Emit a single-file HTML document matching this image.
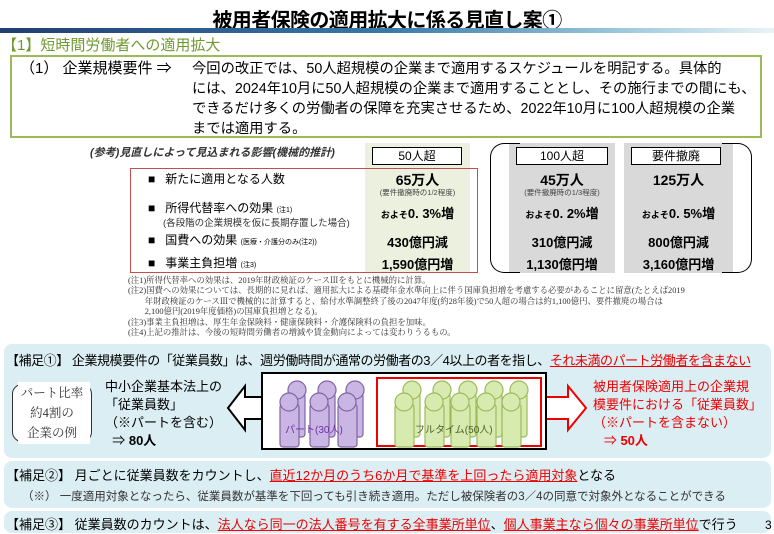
<!DOCTYPE html>
<html><head><meta charset="utf-8">
<style>
*{margin:0;padding:0;box-sizing:border-box}
body{width:774px;height:534px;background:#fff;position:relative;overflow:hidden;font-family:"Liberation Sans","Noto Sans CJK JP",sans-serif;color:#000}
.a{position:absolute;white-space:nowrap}
.red{color:#e00}
.u{text-decoration:underline}
</style></head><body>
<div class="a" style="left:0;width:774px;top:4px;text-align:center;font-size:20px;font-weight:bold;letter-spacing:-0.6px">被用者保険の適用拡大に係る見直し案①</div>
<div class="a" style="left:0;top:28px;width:774px;height:5px;background:linear-gradient(90deg,#1f3f6f,#3a79a8 50%,#9cc8dc 80%,#e8f3f7)"></div>
<div class="a" style="left:2px;top:34px;font-size:15px;color:#6f9a2e">【1】短時間労働者への適用拡大</div>
<div class="a" style="left:10px;top:55px;width:752px;height:83px;border:2px solid #9bbb59"></div>
<div class="a" style="left:20px;top:59px;font-size:15px;line-height:20px">（1） 企業規模要件 ⇒</div>
<div class="a" style="left:192px;top:59px;font-size:14.3px;line-height:20px">今回の改正では、50人超規模の企業まで適用するスケジュールを明記する。具体的<br>には、2024年10月に50人超規模の企業まで適用することとし、その施行までの間にも、<br>できるだけ多くの労働者の保障を充実させるため、2022年10月に100人超規模の企業<br>までは適用する。</div>

<div class="a" style="left:90px;top:144px;font-size:11px;font-style:italic;font-weight:bold;color:#333">(参考)見直しによって見込まれる影響(機械的推計)</div>
<div class="a" style="left:365px;top:143px;width:105px;height:130px;background:#ebf1de"></div>
<div class="a" style="left:509px;top:143px;width:106px;height:130px;background:#d9d9d9"></div>
<div class="a" style="left:624px;top:143px;width:109px;height:130px;background:#d9d9d9"></div>
<div class="a" style="left:372px;top:147px;width:90px;height:18px;border:1px solid #000;background:#fff;text-align:center;font-size:12px;line-height:16px">50人超</div>
<div class="a" style="left:516px;top:147px;width:92px;height:18px;border:1px solid #000;background:#fff;text-align:center;font-size:12px;line-height:16px">100人超</div>
<div class="a" style="left:631px;top:147px;width:90px;height:18px;border:1px solid #000;background:#fff;text-align:center;font-size:12px;line-height:16px">要件撤廃</div>
<div class="a" style="left:490px;top:143px;width:30px;height:130px;border:1.5px solid #000;border-right:none;border-radius:14px 0 0 14px"></div>
<div class="a" style="left:722px;top:143px;width:30px;height:130px;border:1.5px solid #000;border-left:none;border-radius:0 14px 14px 0"></div>
<div class="a" style="left:130px;top:168px;width:348px;height:105px;border:1.5px solid #c0504d"></div>
<div class="a" style="left:148px;top:172px;font-size:12px;line-height:14px">■<span style="margin-left:10px">新たに適用となる人数</span></div>
<div class="a" style="left:148px;top:201px;font-size:12px;line-height:14px">■<span style="margin-left:10px">所得代替率への効果</span> <span style="font-size:7px">(注1)</span></div>
<div class="a" style="left:163px;top:215px;font-size:9.5px;color:#333">(各段階の企業規模を仮に長期存置した場合)</div>
<div class="a" style="left:148px;top:233px;font-size:12px;line-height:14px">■<span style="margin-left:10px">国費への効果</span> <span style="font-size:7px">(医療・介護分のみ(注2))</span></div>
<div class="a" style="left:148px;top:256px;font-size:12px;line-height:14px">■<span style="margin-left:10px">事業主負担増</span> <span style="font-size:7px">(注3)</span></div>

<div class="a" style="left:365px;width:105px;top:170px;text-align:center;font-size:14px;font-weight:bold">65万人</div>
<div class="a" style="left:365px;width:105px;top:187px;text-align:center;font-size:7.5px;color:#444">(要件撤廃時の1/2程度)</div>
<div class="a" style="left:365px;width:105px;top:203px;text-align:center;font-size:13px;font-weight:bold"><span style="font-size:9px">およそ</span>0. 3%増</div>
<div class="a" style="left:365px;width:105px;top:232px;text-align:center;font-size:13px;font-weight:bold">430億円減</div>
<div class="a" style="left:365px;width:105px;top:254px;text-align:center;font-size:13px;font-weight:bold">1,590億円増</div>
<div class="a" style="left:509px;width:106px;top:170px;text-align:center;font-size:14px;font-weight:bold">45万人</div>
<div class="a" style="left:509px;width:106px;top:187px;text-align:center;font-size:7.5px;color:#444">(要件撤廃時の1/3程度)</div>
<div class="a" style="left:509px;width:106px;top:203px;text-align:center;font-size:13px;font-weight:bold"><span style="font-size:9px">およそ</span>0. 2%増</div>
<div class="a" style="left:509px;width:106px;top:232px;text-align:center;font-size:13px;font-weight:bold">310億円減</div>
<div class="a" style="left:509px;width:106px;top:254px;text-align:center;font-size:13px;font-weight:bold">1,130億円増</div>
<div class="a" style="left:624px;width:109px;top:170px;text-align:center;font-size:14px;font-weight:bold">125万人</div>
<div class="a" style="left:624px;width:109px;top:203px;text-align:center;font-size:13px;font-weight:bold"><span style="font-size:9px">およそ</span>0. 5%増</div>
<div class="a" style="left:624px;width:109px;top:232px;text-align:center;font-size:13px;font-weight:bold">800億円減</div>
<div class="a" style="left:624px;width:109px;top:254px;text-align:center;font-size:13px;font-weight:bold">3,160億円増</div>

<div class="a" style="left:128px;top:276px;font-size:8.4px;line-height:10.4px;color:#333;font-family:'Liberation Serif','Noto Serif CJK SC',serif">(注1)所得代替率への効果は、2019年財政検証のケースⅢをもとに機械的に計算。<br>(注2)国費への効果については、長期的に見れば、適用拡大による基礎年金水準向上に伴う国庫負担増を考慮する必要があることに留意(たとえば2019<br>　　年財政検証のケースⅢで機械的に計算すると、給付水準調整終了後の2047年度(約28年後)で50人超の場合は約1,100億円、要件撤廃の場合は<br>　　2,100億円(2019年度価格)の国庫負担増となる)。<br>(注3)事業主負担増は、厚生年金保険料・健康保険料・介護保険料の負担を加味。<br>(注4)上記の推計は、今後の短時間労働者の増減や賃金動向によっては変わりうるもの。</div>

<div class="a" style="left:4px;top:344px;width:767px;height:114px;background:#dbeef4;border-radius:8px"></div>
<div class="a" style="left:6px;top:350px;font-size:13px;letter-spacing:-0.45px">【補足①】 企業規模要件の「従業員数」は、週労働時間が通常の労働者の3／4以上の者を指し、<span class="red u">それ未満のパート労働者を含まない</span></div>
<div class="a" style="left:12px;top:384px;width:80px;height:58px;border:1.5px solid #333;border-radius:10px;background:#fff"></div>
<div class="a" style="left:18px;top:382px;width:72px;height:62px;background:#fff"></div>
<div class="a" style="left:12px;top:383px;width:80px;text-align:center;font-size:12.5px;line-height:20px;color:#333;font-family:'Liberation Serif','Noto Serif CJK SC',serif">パート比率<br>約4割の<br>企業の例</div>
<div class="a" style="left:105px;top:378px;font-size:13px;line-height:18px">中小企業基本法上の<br>「従業員数」<br>（※パートを含む）<br>&nbsp;&nbsp;⇒ <b>80人</b></div>
<svg class="a" style="left:0;top:0" width="774" height="534">
<polygon points="228,408 245,386 245,397 262,397 262,419 245,419 245,430" fill="#fff" stroke="#000" stroke-width="2"/>
<polygon points="546,397 568,397 568,386 586,408 568,430 568,419 546,419" fill="#fff" stroke="#e00" stroke-width="2"/>
<rect x="262" y="373" width="284" height="76" fill="#fff" stroke="#000" stroke-width="2"/>
<rect x="377" y="378" width="164" height="68" fill="#fff" stroke="#e00" stroke-width="2"/>
<g fill="#c9b6e4" stroke="#8064a2" stroke-width="1.2">
<rect x="286" y="393" width="19" height="44" rx="3"/><circle cx="297" cy="390" r="9"/>
<rect x="280" y="404" width="19" height="43" rx="3"/><circle cx="289" cy="402" r="9"/>
<rect x="316" y="393" width="19" height="44" rx="3"/><circle cx="327" cy="390" r="9"/>
<rect x="310" y="404" width="19" height="43" rx="3"/><circle cx="319" cy="402" r="9"/>
<rect x="344" y="393" width="19" height="44" rx="3"/><circle cx="355" cy="390" r="9"/>
<rect x="338" y="404" width="19" height="43" rx="3"/><circle cx="347" cy="402" r="9"/>
</g>
<g fill="#d7eab0" stroke="#9bbb59" stroke-width="1.2">
<rect x="401" y="393" width="19" height="44" rx="3"/><circle cx="412" cy="390" r="9"/>
<rect x="395" y="404" width="19" height="43" rx="3"/><circle cx="404" cy="402" r="9"/>
<rect x="431" y="393" width="19" height="44" rx="3"/><circle cx="442" cy="390" r="9"/>
<rect x="425" y="404" width="19" height="43" rx="3"/><circle cx="434" cy="402" r="9"/>
<rect x="457" y="393" width="19" height="44" rx="3"/><circle cx="468" cy="390" r="9"/>
<rect x="451" y="404" width="19" height="43" rx="3"/><circle cx="460" cy="402" r="9"/>
<rect x="483" y="393" width="19" height="44" rx="3"/><circle cx="494" cy="390" r="9"/>
<rect x="477" y="404" width="19" height="43" rx="3"/><circle cx="486" cy="402" r="9"/>
<rect x="508" y="393" width="19" height="44" rx="3"/><circle cx="519" cy="390" r="9"/>
<rect x="502" y="404" width="19" height="43" rx="3"/><circle cx="511" cy="402" r="9"/>
</g>
<text x="285" y="433" font-size="10" fill="#7030a0" font-family="Liberation Sans,Noto Sans CJK JP,sans-serif">パート(30人)</text>
<text x="415" y="433" font-size="10" fill="#4f6228" font-family="Liberation Sans,Noto Sans CJK JP,sans-serif">フルタイム(50人)</text>
</svg>
<div class="a red" style="left:593px;top:378px;font-size:13px;line-height:18px">被用者保険適用上の企業規<br>模要件における「従業員数」<br>（※パートを含まない）<br>&nbsp;&nbsp;&nbsp;⇒ <b>50人</b></div>

<div class="a" style="left:4px;top:461px;width:767px;height:47px;background:#dbeef4;border-radius:8px"></div>
<div class="a" style="left:6px;top:465px;font-size:13px">【補足②】 月ごとに従業員数をカウントし、<span class="red u">直近12か月のうち6か月で基準を上回ったら適用対象</span>となる</div>
<div class="a" style="left:22px;top:488px;font-size:11.5px;color:#333">（※） 一度適用対象となったら、従業員数が基準を下回っても引き続き適用。ただし被保険者の3／4の同意で対象外となることができる</div>
<div class="a" style="left:4px;top:511px;width:767px;height:22px;background:#dbeef4;border-radius:8px"></div>
<div class="a" style="left:6px;top:514px;font-size:13px">【補足③】 従業員数のカウントは、<span class="red u">法人なら同一の法人番号を有する全事業所単位</span>、<span class="red u">個人事業主なら個々の事業所単位</span>で行う</div>
<div class="a" style="left:765px;top:518px;font-size:12px">3</div>
</body></html>
